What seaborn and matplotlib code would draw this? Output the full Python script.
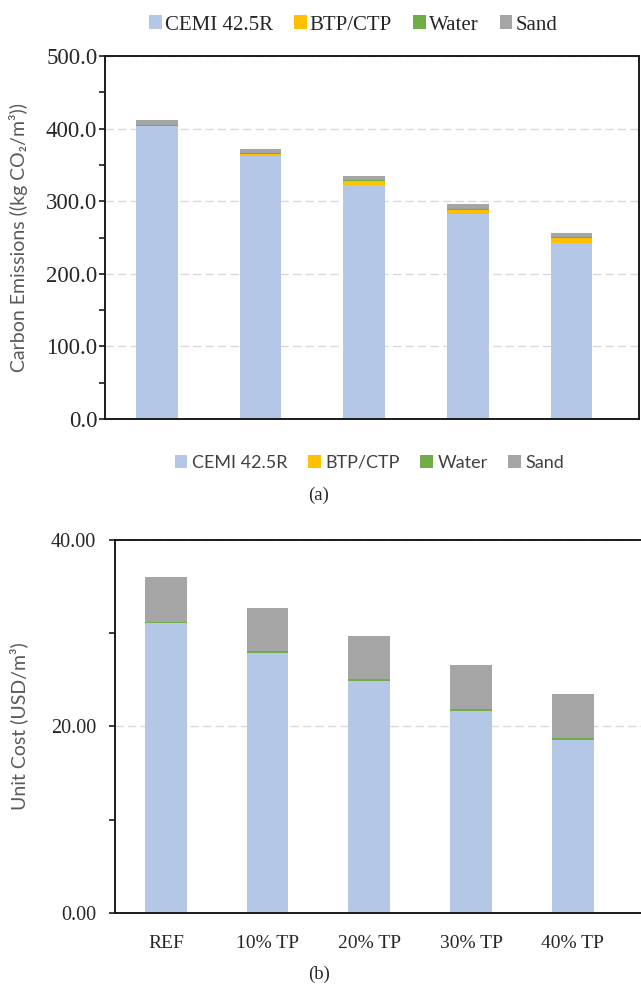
import matplotlib
matplotlib.use("Agg")
import matplotlib.pyplot as plt
from matplotlib.patches import Patch
from matplotlib.ticker import MultipleLocator, FormatStrFormatter
import seaborn as sns
import pandas as pd
import numpy as np

# %% data
mixes = ["REF", "10% TP", "20% TP", "30% TP", "40% TP"]
components = ["CEMI 42.5R", "BTP/CTP", "Water", "Sand"]
colors = ["#B4C7E7", "#FFC000", "#70AD47", "#A5A5A5"]

# carbon emissions (kg CO2/m3)
co2_cement = [403.2, 362.9, 322.6, 282.2, 241.9]
co2_btp = [0.0, 1.8, 5.4, 6.3, 7.5]
co2_water = [1.2, 1.2, 1.2, 1.2, 1.2]
co2_sand = [7.0, 6.2, 5.0, 6.8, 6.2]

# unit cost (USD/m3)
cost_cement = [31.1, 27.9, 24.9, 21.7, 18.6]
cost_btp = [0.0, 0.0, 0.0, 0.0, 0.0]
cost_water = [0.15, 0.15, 0.15, 0.15, 0.15]
cost_sand = [4.8, 4.7, 4.6, 4.7, 4.7]

sns.set_theme(style="white")
plt.rcParams["font.family"] = ["Liberation Serif", "DejaVu Serif"]
SANS = ["Lato", "DejaVu Sans"]
SERIF = ["Liberation Serif", "DejaVu Serif"]
SPINE = "#1a1a1a"


def stacked(ax, layers, width):
    # seaborn has no stacked bars: draw the cumulative sums from the top layer down
    cum = np.cumsum(np.array(layers), axis=0)
    for i in range(len(layers) - 1, -1, -1):
        df = pd.DataFrame({"mix": mixes, "value": cum[i]})
        sns.barplot(data=df, x="mix", y="value", color=colors[i], width=width,
                    saturation=1, linewidth=0, ax=ax)


def style_axis(ax, ymax, major, minor, fmt, tick_size, pad, right_spine):
    ax.set_ylim(0, ymax)
    ax.yaxis.set_major_locator(MultipleLocator(major))
    ax.yaxis.set_minor_locator(MultipleLocator(minor))
    ax.yaxis.set_major_formatter(FormatStrFormatter(fmt))
    ax.yaxis.grid(True, which="major", color="#D9D9D9", linestyle=(0, (6, 3)), linewidth=1)
    ax.set_axisbelow(True)
    for side in ["left", "bottom", "top", "right"]:
        ax.spines[side].set_visible(True)
        ax.spines[side].set_color(SPINE)
        ax.spines[side].set_linewidth(1.4)
    ax.spines["right"].set_visible(right_spine)
    ax.tick_params(axis="y", which="both", direction="out", length=4, width=1.2,
                   color=SPINE, left=True, labelsize=tick_size, pad=pad)
    ax.tick_params(axis="x", bottom=False)
    for lab in ax.get_yticklabels():
        lab.set_fontfamily(SERIF)
        lab.set_color("#262626")


fig = plt.figure(figsize=(6.41, 9.85), dpi=100)

# %% (a) carbon emissions
ax1 = fig.add_axes([0.1638, 0.5746, 0.8331, 0.3685])
stacked(ax1, [co2_cement, co2_btp, co2_water, co2_sand], 0.40)
ax1.set_xlim(-0.5, 4.65)
style_axis(ax1, 500, 100, 50, "%.1f", 16.5, 1.5, True)
ax1.set_xticklabels([])
ax1.set_xlabel("")
ax1.set_ylabel("Carbon Emissions ((kg CO\u2082/m\u00b3))", fontfamily=SANS,
               fontsize=14, color="#595959")
ax1.yaxis.set_label_coords(-0.144, 0.5)

# %% (b) unit cost
ax2 = fig.add_axes([0.1794, 0.0731, 0.8206, 0.3787])
stacked(ax2, [cost_cement, cost_btp, cost_water, cost_sand], 0.41)
ax2.set_xlim(-0.5, 4.67)
style_axis(ax2, 40, 20, 10, "%.2f", 14.5, 9.5, False)
ax2.set_xlabel("")
ax2.set_xticks(range(len(mixes)))
ax2.set_xticklabels(mixes, fontfamily=SERIF, fontsize=14, color="#262626")
ax2.tick_params(axis="x", pad=10)
ax2.set_ylabel("Unit Cost (USD/m\u00b3)", fontfamily=SANS, fontsize=14, color="#595959")
ax2.yaxis.set_label_coords(-0.165, 0.5)

# %% legends and captions
handles = [Patch(facecolor=c, edgecolor="none") for c in colors]
fig.legend(handles, components, loc="center", bbox_to_anchor=(0.551, 0.9746), ncol=4,
           frameon=False, prop={"family": SERIF, "size": 15}, handlelength=0.62,
           handleheight=0.62, handletextpad=0.15, columnspacing=1.0, borderpad=0)
leg2 = fig.legend(handles, components, loc="center", bbox_to_anchor=(0.5764, 0.530), ncol=4,
                  frameon=False, prop={"family": SANS, "size": 13}, handlelength=0.7,
                  handleheight=0.7, handletextpad=0.25, columnspacing=1.15, borderpad=0)
for t in leg2.get_texts():
    t.set_color("#404040")

fig.text(0.4977, 0.4975, "(a)", ha="center", va="center", fontsize=13.5, fontfamily=SERIF)
fig.text(0.4977, 0.011, "(b)", ha="center", va="center", fontsize=13.5, fontfamily=SERIF)

fig.savefig("out.png", dpi=100)
